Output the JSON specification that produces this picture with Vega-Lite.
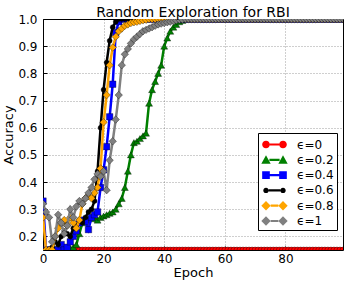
{
"$schema": "https://vega.github.io/schema/vega-lite/v6.json",
"width": 300, "height": 231,
"autosize": {"type": "none"},
"padding": {"left": 43, "top": 19, "right": 3, "bottom": 36},
"title": {"text": "Random Exploration for RBI", "fontSize": 14, "font": "DejaVu Sans", "fontWeight": "normal", "offset": 4, "dy": 11, "anchor": "middle", "color": "black"},
"data": {"values": [
{"s":"ϵ=0","e":0,"a":0.15},{"s":"ϵ=0","e":1,"a":0.15},{"s":"ϵ=0","e":2,"a":0.15},{"s":"ϵ=0","e":3,"a":0.15},{"s":"ϵ=0","e":4,"a":0.15},{"s":"ϵ=0","e":5,"a":0.15},{"s":"ϵ=0","e":6,"a":0.15},{"s":"ϵ=0","e":7,"a":0.15},{"s":"ϵ=0","e":8,"a":0.15},{"s":"ϵ=0","e":9,"a":0.15},
{"s":"ϵ=0","e":10,"a":0.15},{"s":"ϵ=0","e":11,"a":0.15},{"s":"ϵ=0","e":12,"a":0.15},{"s":"ϵ=0","e":13,"a":0.15},{"s":"ϵ=0","e":14,"a":0.15},{"s":"ϵ=0","e":15,"a":0.15},{"s":"ϵ=0","e":16,"a":0.15},{"s":"ϵ=0","e":17,"a":0.15},{"s":"ϵ=0","e":18,"a":0.15},{"s":"ϵ=0","e":19,"a":0.15},
{"s":"ϵ=0","e":20,"a":0.15},{"s":"ϵ=0","e":21,"a":0.15},{"s":"ϵ=0","e":22,"a":0.15},{"s":"ϵ=0","e":23,"a":0.15},{"s":"ϵ=0","e":24,"a":0.15},{"s":"ϵ=0","e":25,"a":0.15},{"s":"ϵ=0","e":26,"a":0.15},{"s":"ϵ=0","e":27,"a":0.15},{"s":"ϵ=0","e":28,"a":0.15},{"s":"ϵ=0","e":29,"a":0.15},
{"s":"ϵ=0","e":30,"a":0.15},{"s":"ϵ=0","e":31,"a":0.15},{"s":"ϵ=0","e":32,"a":0.15},{"s":"ϵ=0","e":33,"a":0.15},{"s":"ϵ=0","e":34,"a":0.15},{"s":"ϵ=0","e":35,"a":0.15},{"s":"ϵ=0","e":36,"a":0.15},{"s":"ϵ=0","e":37,"a":0.15},{"s":"ϵ=0","e":38,"a":0.15},{"s":"ϵ=0","e":39,"a":0.15},
{"s":"ϵ=0","e":40,"a":0.15},{"s":"ϵ=0","e":41,"a":0.15},{"s":"ϵ=0","e":42,"a":0.15},{"s":"ϵ=0","e":43,"a":0.15},{"s":"ϵ=0","e":44,"a":0.15},{"s":"ϵ=0","e":45,"a":0.15},{"s":"ϵ=0","e":46,"a":0.15},{"s":"ϵ=0","e":47,"a":0.15},{"s":"ϵ=0","e":48,"a":0.15},{"s":"ϵ=0","e":49,"a":0.15},
{"s":"ϵ=0","e":50,"a":0.15},{"s":"ϵ=0","e":51,"a":0.15},{"s":"ϵ=0","e":52,"a":0.15},{"s":"ϵ=0","e":53,"a":0.15},{"s":"ϵ=0","e":54,"a":0.15},{"s":"ϵ=0","e":55,"a":0.15},{"s":"ϵ=0","e":56,"a":0.15},{"s":"ϵ=0","e":57,"a":0.15},{"s":"ϵ=0","e":58,"a":0.15},{"s":"ϵ=0","e":59,"a":0.15},
{"s":"ϵ=0","e":60,"a":0.15},{"s":"ϵ=0","e":61,"a":0.15},{"s":"ϵ=0","e":62,"a":0.15},{"s":"ϵ=0","e":63,"a":0.15},{"s":"ϵ=0","e":64,"a":0.15},{"s":"ϵ=0","e":65,"a":0.15},{"s":"ϵ=0","e":66,"a":0.15},{"s":"ϵ=0","e":67,"a":0.15},{"s":"ϵ=0","e":68,"a":0.15},{"s":"ϵ=0","e":69,"a":0.15},
{"s":"ϵ=0","e":70,"a":0.15},{"s":"ϵ=0","e":71,"a":0.15},{"s":"ϵ=0","e":72,"a":0.15},{"s":"ϵ=0","e":73,"a":0.15},{"s":"ϵ=0","e":74,"a":0.15},{"s":"ϵ=0","e":75,"a":0.15},{"s":"ϵ=0","e":76,"a":0.15},{"s":"ϵ=0","e":77,"a":0.15},{"s":"ϵ=0","e":78,"a":0.15},{"s":"ϵ=0","e":79,"a":0.15},
{"s":"ϵ=0","e":80,"a":0.15},{"s":"ϵ=0","e":81,"a":0.15},{"s":"ϵ=0","e":82,"a":0.15},{"s":"ϵ=0","e":83,"a":0.15},{"s":"ϵ=0","e":84,"a":0.15},{"s":"ϵ=0","e":85,"a":0.15},{"s":"ϵ=0","e":86,"a":0.15},{"s":"ϵ=0","e":87,"a":0.15},{"s":"ϵ=0","e":88,"a":0.15},{"s":"ϵ=0","e":89,"a":0.15},
{"s":"ϵ=0","e":90,"a":0.15},{"s":"ϵ=0","e":91,"a":0.15},{"s":"ϵ=0","e":92,"a":0.15},{"s":"ϵ=0","e":93,"a":0.15},{"s":"ϵ=0","e":94,"a":0.15},{"s":"ϵ=0","e":95,"a":0.15},{"s":"ϵ=0","e":96,"a":0.15},{"s":"ϵ=0","e":97,"a":0.15},{"s":"ϵ=0","e":98,"a":0.15},{"s":"ϵ=0","e":99,"a":0.15},

{"s":"ϵ=0.2","e":0,"a":0.15},{"s":"ϵ=0.2","e":1,"a":0.15},{"s":"ϵ=0.2","e":2,"a":0.15},{"s":"ϵ=0.2","e":3,"a":0.15},{"s":"ϵ=0.2","e":4,"a":0.15},{"s":"ϵ=0.2","e":5,"a":0.15},{"s":"ϵ=0.2","e":6,"a":0.15},{"s":"ϵ=0.2","e":7,"a":0.15},{"s":"ϵ=0.2","e":8,"a":0.15},{"s":"ϵ=0.2","e":9,"a":0.155},
{"s":"ϵ=0.2","e":10,"a":0.16},{"s":"ϵ=0.2","e":11,"a":0.17},{"s":"ϵ=0.2","e":12,"a":0.21},{"s":"ϵ=0.2","e":13,"a":0.25},{"s":"ϵ=0.2","e":14,"a":0.26},{"s":"ϵ=0.2","e":15,"a":0.265},{"s":"ϵ=0.2","e":16,"a":0.27},{"s":"ϵ=0.2","e":17,"a":0.265},{"s":"ϵ=0.2","e":18,"a":0.26},{"s":"ϵ=0.2","e":19,"a":0.27},
{"s":"ϵ=0.2","e":20,"a":0.275},{"s":"ϵ=0.2","e":21,"a":0.28},{"s":"ϵ=0.2","e":22,"a":0.285},{"s":"ϵ=0.2","e":23,"a":0.29},{"s":"ϵ=0.2","e":24,"a":0.3},{"s":"ϵ=0.2","e":25,"a":0.32},{"s":"ϵ=0.2","e":26,"a":0.34},{"s":"ϵ=0.2","e":27,"a":0.38},{"s":"ϵ=0.2","e":28,"a":0.44},{"s":"ϵ=0.2","e":29,"a":0.5},
{"s":"ϵ=0.2","e":30,"a":0.545},{"s":"ϵ=0.2","e":31,"a":0.55},{"s":"ϵ=0.2","e":32,"a":0.56},{"s":"ϵ=0.2","e":33,"a":0.57},{"s":"ϵ=0.2","e":34,"a":0.58},{"s":"ϵ=0.2","e":35,"a":0.69},{"s":"ϵ=0.2","e":36,"a":0.74},{"s":"ϵ=0.2","e":37,"a":0.77},{"s":"ϵ=0.2","e":38,"a":0.8},{"s":"ϵ=0.2","e":39,"a":0.83},
{"s":"ϵ=0.2","e":40,"a":0.9},{"s":"ϵ=0.2","e":41,"a":0.93},{"s":"ϵ=0.2","e":42,"a":0.955},{"s":"ϵ=0.2","e":43,"a":0.97},{"s":"ϵ=0.2","e":44,"a":0.98},{"s":"ϵ=0.2","e":45,"a":0.99},{"s":"ϵ=0.2","e":46,"a":0.995},{"s":"ϵ=0.2","e":47,"a":1},{"s":"ϵ=0.2","e":48,"a":1},{"s":"ϵ=0.2","e":49,"a":1},
{"s":"ϵ=0.2","e":50,"a":1},{"s":"ϵ=0.2","e":51,"a":1},{"s":"ϵ=0.2","e":52,"a":1},{"s":"ϵ=0.2","e":53,"a":1},{"s":"ϵ=0.2","e":54,"a":1},{"s":"ϵ=0.2","e":55,"a":1},{"s":"ϵ=0.2","e":56,"a":1},{"s":"ϵ=0.2","e":57,"a":1},{"s":"ϵ=0.2","e":58,"a":1},{"s":"ϵ=0.2","e":59,"a":1},
{"s":"ϵ=0.2","e":60,"a":1},{"s":"ϵ=0.2","e":61,"a":1},{"s":"ϵ=0.2","e":62,"a":1},{"s":"ϵ=0.2","e":63,"a":1},{"s":"ϵ=0.2","e":64,"a":1},{"s":"ϵ=0.2","e":65,"a":1},{"s":"ϵ=0.2","e":66,"a":1},{"s":"ϵ=0.2","e":67,"a":1},{"s":"ϵ=0.2","e":68,"a":1},{"s":"ϵ=0.2","e":69,"a":1},
{"s":"ϵ=0.2","e":70,"a":1},{"s":"ϵ=0.2","e":71,"a":1},{"s":"ϵ=0.2","e":72,"a":1},{"s":"ϵ=0.2","e":73,"a":1},{"s":"ϵ=0.2","e":74,"a":1},{"s":"ϵ=0.2","e":75,"a":1},{"s":"ϵ=0.2","e":76,"a":1},{"s":"ϵ=0.2","e":77,"a":1},{"s":"ϵ=0.2","e":78,"a":1},{"s":"ϵ=0.2","e":79,"a":1},
{"s":"ϵ=0.2","e":80,"a":1},{"s":"ϵ=0.2","e":81,"a":1},{"s":"ϵ=0.2","e":82,"a":1},{"s":"ϵ=0.2","e":83,"a":1},{"s":"ϵ=0.2","e":84,"a":1},{"s":"ϵ=0.2","e":85,"a":1},{"s":"ϵ=0.2","e":86,"a":1},{"s":"ϵ=0.2","e":87,"a":1},{"s":"ϵ=0.2","e":88,"a":1},{"s":"ϵ=0.2","e":89,"a":1},
{"s":"ϵ=0.2","e":90,"a":1},{"s":"ϵ=0.2","e":91,"a":1},{"s":"ϵ=0.2","e":92,"a":1},{"s":"ϵ=0.2","e":93,"a":1},{"s":"ϵ=0.2","e":94,"a":1},{"s":"ϵ=0.2","e":95,"a":1},{"s":"ϵ=0.2","e":96,"a":1},{"s":"ϵ=0.2","e":97,"a":1},{"s":"ϵ=0.2","e":98,"a":1},{"s":"ϵ=0.2","e":99,"a":1},

{"s":"ϵ=0.4","e":0,"a":0.33},{"s":"ϵ=0.4","e":1,"a":0.15},{"s":"ϵ=0.4","e":2,"a":0.15},{"s":"ϵ=0.4","e":3,"a":0.15},{"s":"ϵ=0.4","e":4,"a":0.15},{"s":"ϵ=0.4","e":5,"a":0.15},{"s":"ϵ=0.4","e":6,"a":0.17},{"s":"ϵ=0.4","e":7,"a":0.15},{"s":"ϵ=0.4","e":8,"a":0.16},{"s":"ϵ=0.4","e":9,"a":0.18},
{"s":"ϵ=0.4","e":10,"a":0.2},{"s":"ϵ=0.4","e":11,"a":0.22},{"s":"ϵ=0.4","e":12,"a":0.25},{"s":"ϵ=0.4","e":13,"a":0.26},{"s":"ϵ=0.4","e":14,"a":0.255},{"s":"ϵ=0.4","e":15,"a":0.225},{"s":"ϵ=0.4","e":16,"a":0.27},{"s":"ϵ=0.4","e":17,"a":0.28},{"s":"ϵ=0.4","e":18,"a":0.29},{"s":"ϵ=0.4","e":19,"a":0.38},
{"s":"ϵ=0.4","e":20,"a":0.445},{"s":"ϵ=0.4","e":21,"a":0.53},{"s":"ϵ=0.4","e":22,"a":0.64},{"s":"ϵ=0.4","e":23,"a":0.76},{"s":"ϵ=0.4","e":24,"a":0.95},{"s":"ϵ=0.4","e":25,"a":0.99},{"s":"ϵ=0.4","e":26,"a":1},{"s":"ϵ=0.4","e":27,"a":1},{"s":"ϵ=0.4","e":28,"a":1},{"s":"ϵ=0.4","e":29,"a":1},
{"s":"ϵ=0.4","e":30,"a":1},{"s":"ϵ=0.4","e":31,"a":1},{"s":"ϵ=0.4","e":32,"a":1},{"s":"ϵ=0.4","e":33,"a":1},{"s":"ϵ=0.4","e":34,"a":1},{"s":"ϵ=0.4","e":35,"a":1},{"s":"ϵ=0.4","e":36,"a":1},{"s":"ϵ=0.4","e":37,"a":1},{"s":"ϵ=0.4","e":38,"a":1},{"s":"ϵ=0.4","e":39,"a":1},
{"s":"ϵ=0.4","e":40,"a":1},{"s":"ϵ=0.4","e":41,"a":1},{"s":"ϵ=0.4","e":42,"a":1},{"s":"ϵ=0.4","e":43,"a":1},{"s":"ϵ=0.4","e":44,"a":1},{"s":"ϵ=0.4","e":45,"a":1},{"s":"ϵ=0.4","e":46,"a":1},{"s":"ϵ=0.4","e":47,"a":1},{"s":"ϵ=0.4","e":48,"a":1},{"s":"ϵ=0.4","e":49,"a":1},
{"s":"ϵ=0.4","e":50,"a":1},{"s":"ϵ=0.4","e":51,"a":1},{"s":"ϵ=0.4","e":52,"a":1},{"s":"ϵ=0.4","e":53,"a":1},{"s":"ϵ=0.4","e":54,"a":1},{"s":"ϵ=0.4","e":55,"a":1},{"s":"ϵ=0.4","e":56,"a":1},{"s":"ϵ=0.4","e":57,"a":1},{"s":"ϵ=0.4","e":58,"a":1},{"s":"ϵ=0.4","e":59,"a":1},
{"s":"ϵ=0.4","e":60,"a":1},{"s":"ϵ=0.4","e":61,"a":1},{"s":"ϵ=0.4","e":62,"a":1},{"s":"ϵ=0.4","e":63,"a":1},{"s":"ϵ=0.4","e":64,"a":1},{"s":"ϵ=0.4","e":65,"a":1},{"s":"ϵ=0.4","e":66,"a":1},{"s":"ϵ=0.4","e":67,"a":1},{"s":"ϵ=0.4","e":68,"a":1},{"s":"ϵ=0.4","e":69,"a":1},
{"s":"ϵ=0.4","e":70,"a":1},{"s":"ϵ=0.4","e":71,"a":1},{"s":"ϵ=0.4","e":72,"a":1},{"s":"ϵ=0.4","e":73,"a":1},{"s":"ϵ=0.4","e":74,"a":1},{"s":"ϵ=0.4","e":75,"a":1},{"s":"ϵ=0.4","e":76,"a":1},{"s":"ϵ=0.4","e":77,"a":1},{"s":"ϵ=0.4","e":78,"a":1},{"s":"ϵ=0.4","e":79,"a":1},
{"s":"ϵ=0.4","e":80,"a":1},{"s":"ϵ=0.4","e":81,"a":1},{"s":"ϵ=0.4","e":82,"a":1},{"s":"ϵ=0.4","e":83,"a":1},{"s":"ϵ=0.4","e":84,"a":1},{"s":"ϵ=0.4","e":85,"a":1},{"s":"ϵ=0.4","e":86,"a":1},{"s":"ϵ=0.4","e":87,"a":1},{"s":"ϵ=0.4","e":88,"a":1},{"s":"ϵ=0.4","e":89,"a":1},
{"s":"ϵ=0.4","e":90,"a":1},{"s":"ϵ=0.4","e":91,"a":1},{"s":"ϵ=0.4","e":92,"a":1},{"s":"ϵ=0.4","e":93,"a":1},{"s":"ϵ=0.4","e":94,"a":1},{"s":"ϵ=0.4","e":95,"a":1},{"s":"ϵ=0.4","e":96,"a":1},{"s":"ϵ=0.4","e":97,"a":1},{"s":"ϵ=0.4","e":98,"a":1},{"s":"ϵ=0.4","e":99,"a":1},

{"s":"ϵ=0.6","e":0,"a":0.15},{"s":"ϵ=0.6","e":1,"a":0.15},{"s":"ϵ=0.6","e":2,"a":0.15},{"s":"ϵ=0.6","e":3,"a":0.16},{"s":"ϵ=0.6","e":4,"a":0.18},{"s":"ϵ=0.6","e":5,"a":0.17},{"s":"ϵ=0.6","e":6,"a":0.2},{"s":"ϵ=0.6","e":7,"a":0.22},{"s":"ϵ=0.6","e":8,"a":0.21},{"s":"ϵ=0.6","e":9,"a":0.2},
{"s":"ϵ=0.6","e":10,"a":0.23},{"s":"ϵ=0.6","e":11,"a":0.24},{"s":"ϵ=0.6","e":12,"a":0.26},{"s":"ϵ=0.6","e":13,"a":0.25},{"s":"ϵ=0.6","e":14,"a":0.27},{"s":"ϵ=0.6","e":15,"a":0.29},{"s":"ϵ=0.6","e":16,"a":0.3},{"s":"ϵ=0.6","e":17,"a":0.33},{"s":"ϵ=0.6","e":18,"a":0.44},{"s":"ϵ=0.6","e":19,"a":0.6},
{"s":"ϵ=0.6","e":20,"a":0.74},{"s":"ϵ=0.6","e":21,"a":0.84},{"s":"ϵ=0.6","e":22,"a":0.92},{"s":"ϵ=0.6","e":23,"a":0.97},{"s":"ϵ=0.6","e":24,"a":0.99},{"s":"ϵ=0.6","e":25,"a":1},{"s":"ϵ=0.6","e":26,"a":1},{"s":"ϵ=0.6","e":27,"a":1},{"s":"ϵ=0.6","e":28,"a":1},{"s":"ϵ=0.6","e":29,"a":1},
{"s":"ϵ=0.6","e":30,"a":1},{"s":"ϵ=0.6","e":31,"a":1},{"s":"ϵ=0.6","e":32,"a":1},{"s":"ϵ=0.6","e":33,"a":1},{"s":"ϵ=0.6","e":34,"a":1},{"s":"ϵ=0.6","e":35,"a":1},{"s":"ϵ=0.6","e":36,"a":1},{"s":"ϵ=0.6","e":37,"a":1},{"s":"ϵ=0.6","e":38,"a":1},{"s":"ϵ=0.6","e":39,"a":1},
{"s":"ϵ=0.6","e":40,"a":1},{"s":"ϵ=0.6","e":41,"a":1},{"s":"ϵ=0.6","e":42,"a":1},{"s":"ϵ=0.6","e":43,"a":1},{"s":"ϵ=0.6","e":44,"a":1},{"s":"ϵ=0.6","e":45,"a":1},{"s":"ϵ=0.6","e":46,"a":1},{"s":"ϵ=0.6","e":47,"a":1},{"s":"ϵ=0.6","e":48,"a":1},{"s":"ϵ=0.6","e":49,"a":1},
{"s":"ϵ=0.6","e":50,"a":1},{"s":"ϵ=0.6","e":51,"a":1},{"s":"ϵ=0.6","e":52,"a":1},{"s":"ϵ=0.6","e":53,"a":1},{"s":"ϵ=0.6","e":54,"a":1},{"s":"ϵ=0.6","e":55,"a":1},{"s":"ϵ=0.6","e":56,"a":1},{"s":"ϵ=0.6","e":57,"a":1},{"s":"ϵ=0.6","e":58,"a":1},{"s":"ϵ=0.6","e":59,"a":1},
{"s":"ϵ=0.6","e":60,"a":1},{"s":"ϵ=0.6","e":61,"a":1},{"s":"ϵ=0.6","e":62,"a":1},{"s":"ϵ=0.6","e":63,"a":1},{"s":"ϵ=0.6","e":64,"a":1},{"s":"ϵ=0.6","e":65,"a":1},{"s":"ϵ=0.6","e":66,"a":1},{"s":"ϵ=0.6","e":67,"a":1},{"s":"ϵ=0.6","e":68,"a":1},{"s":"ϵ=0.6","e":69,"a":1},
{"s":"ϵ=0.6","e":70,"a":1},{"s":"ϵ=0.6","e":71,"a":1},{"s":"ϵ=0.6","e":72,"a":1},{"s":"ϵ=0.6","e":73,"a":1},{"s":"ϵ=0.6","e":74,"a":1},{"s":"ϵ=0.6","e":75,"a":1},{"s":"ϵ=0.6","e":76,"a":1},{"s":"ϵ=0.6","e":77,"a":1},{"s":"ϵ=0.6","e":78,"a":1},{"s":"ϵ=0.6","e":79,"a":1},
{"s":"ϵ=0.6","e":80,"a":1},{"s":"ϵ=0.6","e":81,"a":1},{"s":"ϵ=0.6","e":82,"a":1},{"s":"ϵ=0.6","e":83,"a":1},{"s":"ϵ=0.6","e":84,"a":1},{"s":"ϵ=0.6","e":85,"a":1},{"s":"ϵ=0.6","e":86,"a":1},{"s":"ϵ=0.6","e":87,"a":1},{"s":"ϵ=0.6","e":88,"a":1},{"s":"ϵ=0.6","e":89,"a":1},
{"s":"ϵ=0.6","e":90,"a":1},{"s":"ϵ=0.6","e":91,"a":1},{"s":"ϵ=0.6","e":92,"a":1},{"s":"ϵ=0.6","e":93,"a":1},{"s":"ϵ=0.6","e":94,"a":1},{"s":"ϵ=0.6","e":95,"a":1},{"s":"ϵ=0.6","e":96,"a":1},{"s":"ϵ=0.6","e":97,"a":1},{"s":"ϵ=0.6","e":98,"a":1},{"s":"ϵ=0.6","e":99,"a":1},

{"s":"ϵ=0.8","e":0,"a":0.27},{"s":"ϵ=0.8","e":1,"a":0.15},{"s":"ϵ=0.8","e":2,"a":0.15},{"s":"ϵ=0.8","e":3,"a":0.15},{"s":"ϵ=0.8","e":4,"a":0.2},{"s":"ϵ=0.8","e":5,"a":0.23},{"s":"ϵ=0.8","e":6,"a":0.25},{"s":"ϵ=0.8","e":7,"a":0.26},{"s":"ϵ=0.8","e":8,"a":0.24},{"s":"ϵ=0.8","e":9,"a":0.27},
{"s":"ϵ=0.8","e":10,"a":0.25},{"s":"ϵ=0.8","e":11,"a":0.23},{"s":"ϵ=0.8","e":12,"a":0.26},{"s":"ϵ=0.8","e":13,"a":0.32},{"s":"ϵ=0.8","e":14,"a":0.34},{"s":"ϵ=0.8","e":15,"a":0.35},{"s":"ϵ=0.8","e":16,"a":0.34},{"s":"ϵ=0.8","e":17,"a":0.36},{"s":"ϵ=0.8","e":18,"a":0.38},{"s":"ϵ=0.8","e":19,"a":0.45},
{"s":"ϵ=0.8","e":20,"a":0.62},{"s":"ϵ=0.8","e":21,"a":0.72},{"s":"ϵ=0.8","e":22,"a":0.83},{"s":"ϵ=0.8","e":23,"a":0.895},{"s":"ϵ=0.8","e":24,"a":0.935},{"s":"ϵ=0.8","e":25,"a":0.955},{"s":"ϵ=0.8","e":26,"a":0.965},{"s":"ϵ=0.8","e":27,"a":0.975},{"s":"ϵ=0.8","e":28,"a":0.98},{"s":"ϵ=0.8","e":29,"a":0.985},
{"s":"ϵ=0.8","e":30,"a":0.988},{"s":"ϵ=0.8","e":31,"a":0.99},{"s":"ϵ=0.8","e":32,"a":0.993},{"s":"ϵ=0.8","e":33,"a":0.995},{"s":"ϵ=0.8","e":34,"a":0.997},{"s":"ϵ=0.8","e":35,"a":1},{"s":"ϵ=0.8","e":36,"a":1},{"s":"ϵ=0.8","e":37,"a":1},{"s":"ϵ=0.8","e":38,"a":1},{"s":"ϵ=0.8","e":39,"a":1},
{"s":"ϵ=0.8","e":40,"a":1},{"s":"ϵ=0.8","e":41,"a":1},{"s":"ϵ=0.8","e":42,"a":1},{"s":"ϵ=0.8","e":43,"a":1},{"s":"ϵ=0.8","e":44,"a":1},{"s":"ϵ=0.8","e":45,"a":1},{"s":"ϵ=0.8","e":46,"a":1},{"s":"ϵ=0.8","e":47,"a":1},{"s":"ϵ=0.8","e":48,"a":1},{"s":"ϵ=0.8","e":49,"a":1},
{"s":"ϵ=0.8","e":50,"a":1},{"s":"ϵ=0.8","e":51,"a":1},{"s":"ϵ=0.8","e":52,"a":1},{"s":"ϵ=0.8","e":53,"a":1},{"s":"ϵ=0.8","e":54,"a":1},{"s":"ϵ=0.8","e":55,"a":1},{"s":"ϵ=0.8","e":56,"a":1},{"s":"ϵ=0.8","e":57,"a":1},{"s":"ϵ=0.8","e":58,"a":1},{"s":"ϵ=0.8","e":59,"a":1},
{"s":"ϵ=0.8","e":60,"a":1},{"s":"ϵ=0.8","e":61,"a":1},{"s":"ϵ=0.8","e":62,"a":1},{"s":"ϵ=0.8","e":63,"a":1},{"s":"ϵ=0.8","e":64,"a":1},{"s":"ϵ=0.8","e":65,"a":1},{"s":"ϵ=0.8","e":66,"a":1},{"s":"ϵ=0.8","e":67,"a":1},{"s":"ϵ=0.8","e":68,"a":1},{"s":"ϵ=0.8","e":69,"a":1},
{"s":"ϵ=0.8","e":70,"a":1},{"s":"ϵ=0.8","e":71,"a":1},{"s":"ϵ=0.8","e":72,"a":1},{"s":"ϵ=0.8","e":73,"a":1},{"s":"ϵ=0.8","e":74,"a":1},{"s":"ϵ=0.8","e":75,"a":1},{"s":"ϵ=0.8","e":76,"a":1},{"s":"ϵ=0.8","e":77,"a":1},{"s":"ϵ=0.8","e":78,"a":1},{"s":"ϵ=0.8","e":79,"a":1},
{"s":"ϵ=0.8","e":80,"a":1},{"s":"ϵ=0.8","e":81,"a":1},{"s":"ϵ=0.8","e":82,"a":1},{"s":"ϵ=0.8","e":83,"a":1},{"s":"ϵ=0.8","e":84,"a":1},{"s":"ϵ=0.8","e":85,"a":1},{"s":"ϵ=0.8","e":86,"a":1},{"s":"ϵ=0.8","e":87,"a":1},{"s":"ϵ=0.8","e":88,"a":1},{"s":"ϵ=0.8","e":89,"a":1},
{"s":"ϵ=0.8","e":90,"a":1},{"s":"ϵ=0.8","e":91,"a":1},{"s":"ϵ=0.8","e":92,"a":1},{"s":"ϵ=0.8","e":93,"a":1},{"s":"ϵ=0.8","e":94,"a":1},{"s":"ϵ=0.8","e":95,"a":1},{"s":"ϵ=0.8","e":96,"a":1},{"s":"ϵ=0.8","e":97,"a":1},{"s":"ϵ=0.8","e":98,"a":1},{"s":"ϵ=0.8","e":99,"a":1},

{"s":"ϵ=1","e":0,"a":0.32},{"s":"ϵ=1","e":1,"a":0.29},{"s":"ϵ=1","e":2,"a":0.27},{"s":"ϵ=1","e":3,"a":0.18},{"s":"ϵ=1","e":4,"a":0.2},{"s":"ϵ=1","e":5,"a":0.28},{"s":"ϵ=1","e":6,"a":0.25},{"s":"ϵ=1","e":7,"a":0.21},{"s":"ϵ=1","e":8,"a":0.24},{"s":"ϵ=1","e":9,"a":0.3},
{"s":"ϵ=1","e":10,"a":0.27},{"s":"ϵ=1","e":11,"a":0.31},{"s":"ϵ=1","e":12,"a":0.33},{"s":"ϵ=1","e":13,"a":0.32},{"s":"ϵ=1","e":14,"a":0.34},{"s":"ϵ=1","e":15,"a":0.36},{"s":"ϵ=1","e":16,"a":0.38},{"s":"ϵ=1","e":17,"a":0.41},{"s":"ϵ=1","e":18,"a":0.43},{"s":"ϵ=1","e":19,"a":0.42},
{"s":"ϵ=1","e":20,"a":0.44},{"s":"ϵ=1","e":21,"a":0.37},{"s":"ϵ=1","e":22,"a":0.48},{"s":"ϵ=1","e":23,"a":0.55},{"s":"ϵ=1","e":24,"a":0.63},{"s":"ϵ=1","e":25,"a":0.72},{"s":"ϵ=1","e":26,"a":0.83},{"s":"ϵ=1","e":27,"a":0.87},{"s":"ϵ=1","e":28,"a":0.89},{"s":"ϵ=1","e":29,"a":0.91},
{"s":"ϵ=1","e":30,"a":0.925},{"s":"ϵ=1","e":31,"a":0.935},{"s":"ϵ=1","e":32,"a":0.945},{"s":"ϵ=1","e":33,"a":0.955},{"s":"ϵ=1","e":34,"a":0.96},{"s":"ϵ=1","e":35,"a":0.965},{"s":"ϵ=1","e":36,"a":0.97},{"s":"ϵ=1","e":37,"a":0.975},{"s":"ϵ=1","e":38,"a":0.98},{"s":"ϵ=1","e":39,"a":0.983},
{"s":"ϵ=1","e":40,"a":0.985},{"s":"ϵ=1","e":41,"a":0.988},{"s":"ϵ=1","e":42,"a":0.99},{"s":"ϵ=1","e":43,"a":0.993},{"s":"ϵ=1","e":44,"a":0.995},{"s":"ϵ=1","e":45,"a":0.997},{"s":"ϵ=1","e":46,"a":0.998},{"s":"ϵ=1","e":47,"a":1},{"s":"ϵ=1","e":48,"a":1},{"s":"ϵ=1","e":49,"a":1},
{"s":"ϵ=1","e":50,"a":1},{"s":"ϵ=1","e":51,"a":1},{"s":"ϵ=1","e":52,"a":1},{"s":"ϵ=1","e":53,"a":1},{"s":"ϵ=1","e":54,"a":1},{"s":"ϵ=1","e":55,"a":1},{"s":"ϵ=1","e":56,"a":1},{"s":"ϵ=1","e":57,"a":1},{"s":"ϵ=1","e":58,"a":1},{"s":"ϵ=1","e":59,"a":1},
{"s":"ϵ=1","e":60,"a":1},{"s":"ϵ=1","e":61,"a":1},{"s":"ϵ=1","e":62,"a":1},{"s":"ϵ=1","e":63,"a":1},{"s":"ϵ=1","e":64,"a":1},{"s":"ϵ=1","e":65,"a":1},{"s":"ϵ=1","e":66,"a":1},{"s":"ϵ=1","e":67,"a":1},{"s":"ϵ=1","e":68,"a":1},{"s":"ϵ=1","e":69,"a":1},
{"s":"ϵ=1","e":70,"a":1},{"s":"ϵ=1","e":71,"a":1},{"s":"ϵ=1","e":72,"a":1},{"s":"ϵ=1","e":73,"a":1},{"s":"ϵ=1","e":74,"a":1},{"s":"ϵ=1","e":75,"a":1},{"s":"ϵ=1","e":76,"a":1},{"s":"ϵ=1","e":77,"a":1},{"s":"ϵ=1","e":78,"a":1},{"s":"ϵ=1","e":79,"a":1},
{"s":"ϵ=1","e":80,"a":1},{"s":"ϵ=1","e":81,"a":1},{"s":"ϵ=1","e":82,"a":1},{"s":"ϵ=1","e":83,"a":1},{"s":"ϵ=1","e":84,"a":1},{"s":"ϵ=1","e":85,"a":1},{"s":"ϵ=1","e":86,"a":1},{"s":"ϵ=1","e":87,"a":1},{"s":"ϵ=1","e":88,"a":1},{"s":"ϵ=1","e":89,"a":1},
{"s":"ϵ=1","e":90,"a":1},{"s":"ϵ=1","e":91,"a":1},{"s":"ϵ=1","e":92,"a":1},{"s":"ϵ=1","e":93,"a":1},{"s":"ϵ=1","e":94,"a":1},{"s":"ϵ=1","e":95,"a":1},{"s":"ϵ=1","e":96,"a":1},{"s":"ϵ=1","e":97,"a":1},{"s":"ϵ=1","e":98,"a":1},{"s":"ϵ=1","e":99,"a":1}
]},
"encoding": {
  "x": {"field": "e", "type": "quantitative", "title": "Epoch",
        "scale": {"domain": [0, 99], "nice": false, "zero": false},
        "axis": {"values": [0, 20, 40, 60, 80], "labelPadding": 7, "titlePadding": 2, "labelFlush": false}},
  "y": {"field": "a", "type": "quantitative", "title": "Accuracy",
        "scale": {"domain": [0.15, 1.0], "nice": false, "zero": false},
        "axis": {"values": [0.2, 0.3, 0.4, 0.5, 0.6, 0.7, 0.8, 0.9, 1.0], "format": ".1f", "labelPadding": 10, "titlePadding": 2, "labelFlush": false}},
  "color": {"field": "s", "type": "nominal",
    "scale": {"domain": ["ϵ=0", "ϵ=0.2", "ϵ=0.4", "ϵ=0.6", "ϵ=0.8", "ϵ=1"], "range": ["#ff0000", "#008000", "#0000ff", "#000000", "#ffa500", "#808080"]},
    "legend": {"title": null, "orient": "none", "legendX": 215, "legendY": 114,
      "fillColor": "white", "strokeColor": "black", "padding": 3, "cornerRadius": 0,
      "labelFont": "DejaVu Sans", "labelFontSize": 12, "labelColor": "black", "labelOffset": 14,
      "symbolSize": 289, "symbolOffset": 5, "rowPadding": 0.3,
      "encode": {
        "entries": {"update": {"width": {"value": 78}}},
        "symbols": {"update": {
        "shape": {"signal": "datum.value === 'ϵ=0' ? 'M-1.45,0A0.45,0.45,0,1,0,-0.55,0A0.45,0.45,0,1,0,-1.45,0Z M0.55,0A0.45,0.45,0,1,0,1.45,0A0.45,0.45,0,1,0,0.55,0Z M-0.55,-0.13H0.55V0.13H-0.55Z' : datum.value === 'ϵ=0.2' ? 'M-1,-0.55L-0.45,0.45L-1.55,0.45Z M1,-0.55L1.55,0.45L0.45,0.45Z M-0.6,-0.13H0.6V0.13H-0.6Z' : datum.value === 'ϵ=0.4' ? 'M-1.45,-0.45H-0.55V0.45H-1.45Z M0.55,-0.45H1.45V0.45H0.55Z M-0.55,-0.13H0.55V0.13H-0.55Z' : datum.value === 'ϵ=0.6' ? 'M-1.32,0A0.32,0.32,0,1,0,-0.68,0A0.32,0.32,0,1,0,-1.32,0Z M0.68,0A0.32,0.32,0,1,0,1.32,0A0.32,0.32,0,1,0,0.68,0Z M-0.68,-0.13H0.68V0.13H-0.68Z' : 'M-1,-0.55L-0.45,0L-1,0.55L-1.55,0Z M1,-0.55L1.55,0L1,0.55L0.45,0Z M-0.45,-0.13H0.45V0.13H-0.45Z'"},
        "fill": {"scale": "color", "field": "value"},
        "fillOpacity": {"value": 1},
        "opacity": {"value": 1},
        "stroke": {"value": "transparent"},
        "strokeWidth": {"value": 0},
        "size": {"value": 289}
      }}}
    }
  }
},
"layer": [
  {"transform": [{"filter": {"field": "s", "equal": "ϵ=0"}}],
   "mark": {"type": "line", "strokeWidth": 2.5, "clip": true,
            "point": {"shape": "circle", "size": 36, "filled": true, "stroke": "black", "strokeWidth": 0.5, "strokeOpacity": 0.7, "clip": true}}},
  {"transform": [{"filter": {"field": "s", "equal": "ϵ=0.2"}}],
   "mark": {"type": "line", "strokeWidth": 2.5, "clip": true,
            "point": {"shape": "triangle-up", "size": 49, "filled": true, "stroke": "black", "strokeWidth": 0.5, "strokeOpacity": 0.7, "clip": true}}},
  {"transform": [{"filter": {"field": "s", "equal": "ϵ=0.4"}}],
   "mark": {"type": "line", "strokeWidth": 2.5, "clip": true,
            "point": {"shape": "square", "size": 42, "filled": true, "stroke": "black", "strokeWidth": 0.5, "strokeOpacity": 0.7, "clip": true}}},
  {"transform": [{"filter": {"field": "s", "equal": "ϵ=0.6"}}],
   "mark": {"type": "line", "strokeWidth": 2.5, "clip": true,
            "point": {"shape": "circle", "size": 25, "filled": true, "stroke": "black", "strokeWidth": 0.5, "strokeOpacity": 0.7, "clip": true}}},
  {"transform": [{"filter": {"field": "s", "equal": "ϵ=0.8"}}],
   "mark": {"type": "line", "strokeWidth": 2.5, "clip": true,
            "point": {"shape": "diamond", "size": 56, "filled": true, "stroke": "black", "strokeWidth": 0.5, "strokeOpacity": 0.7, "clip": true}}},
  {"transform": [{"filter": {"field": "s", "equal": "ϵ=1"}}],
   "mark": {"type": "line", "strokeWidth": 2.5, "clip": true,
            "point": {"shape": "diamond", "size": 56, "filled": true, "stroke": "black", "strokeWidth": 0.5, "strokeOpacity": 0.7, "clip": true}}}
],
"config": {
  "font": "DejaVu Sans",
  "view": {"stroke": "black", "strokeWidth": 1},
  "axis": {"labelFont": "DejaVu Sans", "labelFontSize": 12, "labelColor": "black",
           "titleFont": "DejaVu Sans", "titleFontSize": 13, "titleFontWeight": "normal", "titleColor": "black",
           "domain": false, "grid": true, "gridColor": "black", "gridOpacity": 0.55, "gridDash": [1, 2], "gridWidth": 0.7,
           "ticks": true, "tickColor": "black", "tickSize": -4, "labelOverlap": false}
}
}
